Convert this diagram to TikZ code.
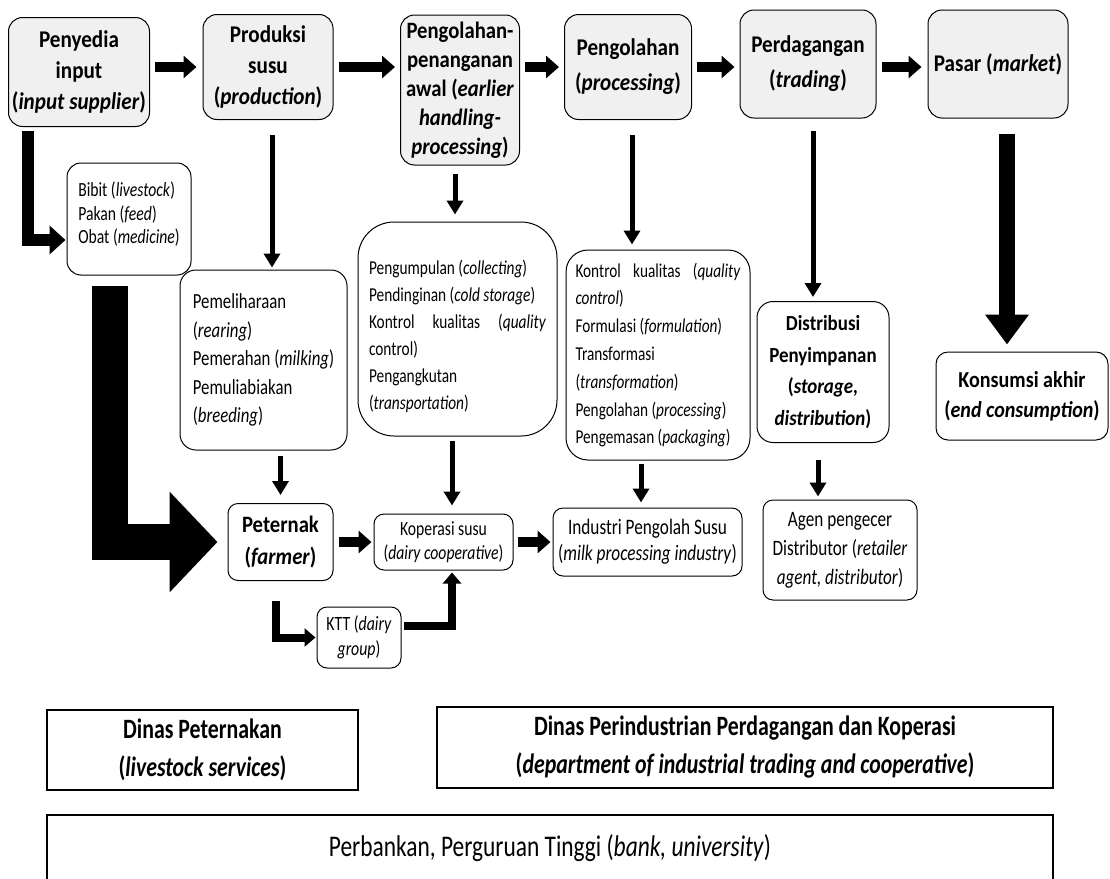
\documentclass[tikz,border=0pt]{standalone}
\usepackage{fontspec}
\setmainfont{Carlito}[FakeStretch=0.88]
\newfontfamily\bodyfont[FakeStretch=0.78]{Carlito}
\newfontfamily\narrowfont[FakeStretch=0.78]{Carlito}
\usetikzlibrary{arrows.meta}

\begin{document}
\begin{tikzpicture}[x=1pt,y=-1pt,
	stage/.style={draw,line width=1pt,rounded corners=14pt,fill=black!6,align=center,inner sep=2pt,
		font=\bfseries\fontsize{24}{31}\selectfont},
	task/.style={draw,line width=1pt,rounded corners=16pt,align=left,inner sep=4pt,
		font=\bodyfont\fontsize{19.7}{27}\selectfont},
	actor/.style={draw,line width=1pt,rounded corners=10pt,align=center,inner sep=2pt,
		font=\bodyfont\fontsize{20}{25}\selectfont},
	agency/.style={draw,line width=1.2pt,align=center,inner sep=2pt,
		font=\narrowfont\bfseries\fontsize{28}{38}\selectfont},
	flow/.style={line width=10pt,-{Triangle[length=13pt,width=22pt]}},
	down/.style={line width=5pt,-{Triangle[length=14pt,width=16pt]}},
	bigflow/.style={line width=36pt,-{Triangle[length=48pt,width=98pt]}}
	]
	
	\useasboundingbox (0,0) rectangle (1110,878);
	
	% chain stages
	\node[stage, minimum width=141pt, minimum height=109pt] (penyedia) at (79,72) {Penyedia\\input\\(\textit{input supplier})};
	\node[stage, minimum width=130pt, minimum height=105pt] (produksi) at (268,67) {Produksi\\susu\\(\textit{production})};
	\node[stage, minimum width=119pt, minimum height=150pt, font=\bfseries\fontsize{23.5}{29}\selectfont] (penanganan) at (460,90) {Pengolahan-\\penanganan\\awal (\textit{earlier}\\\textit{handling-}\\\textit{processing})};
	\node[stage, minimum width=127pt, minimum height=105pt, font=\bfseries\fontsize{24}{35}\selectfont] (pengolahan) at (628,67) {Pengolahan\\(\textit{processing})};
	\node[stage, minimum width=136pt, minimum height=108pt, font=\bfseries\fontsize{24}{35}\selectfont] (perdagangan) at (808,64) {Perdagangan\\(\textit{trading})};
	\node[stage, minimum width=140pt, minimum height=108pt] (pasar) at (998,64) {Pasar (\textit{market})};
	
	% activities
	\node[task, minimum width=124pt, minimum height=112pt, rounded corners=14pt, font=\bodyfont\fontsize{20.1}{23.5}\selectfont] (bibit) at (129,219) {Bibit (\textit{livestock})\\Pakan (\textit{feed})\\Obat (\textit{medicine})\\[-11pt]\mbox{}};
	\node[task, minimum width=167pt, minimum height=180pt, font=\bodyfont\fontsize{21.5}{28.5}\selectfont] (pemeliharaan) at (263.5,360) {Pemeliharaan\\(\textit{rearing})\\Pemerahan (\textit{milking})\\Pemuliabiakan\\(\textit{breeding})};
	\node[task, minimum width=199pt, minimum height=214pt, rounded corners=36pt] (pengumpulan) at (457.5,329) {\mbox{}\\[2pt]Pengumpulan (\textit{collecting})\\Pendinginan (\textit{cold storage})\\\makebox[177pt][s]{Kontrol kualitas (\textit{quality}}\\control)\\Pengangkutan\\(\textit{transportation})};
	\node[task, minimum width=184pt, minimum height=210pt, rounded corners=22pt, font=\bodyfont\fontsize{19.6}{27.8}\selectfont] (kontrol) at (658,355) {\makebox[165pt][s]{Kontrol kualitas (\textit{quality}}\\\textit{control})\\Formulasi (\textit{formulation})\\Transformasi\\(\textit{transformation})\\Pengolahan (\textit{processing})\\Pengemasan (\textit{packaging})};
	\node[actor, minimum width=132pt, minimum height=141pt, rounded corners=16pt, font=\bfseries\fontsize{21.5}{31.5}\selectfont] (distribusi) at (823,372) {Distribusi\\Penyimpanan\\(\textit{storage,}\\\textit{distribution})};
	\node[actor, minimum width=172pt, minimum height=88pt, rounded corners=12pt, font=\bfseries\fontsize{22.8}{30}\selectfont] (konsumsi) at (1022,396) {Konsumsi akhir\\(\textit{end consumption})};
	
	% actors
	\node[actor, minimum width=105pt, minimum height=77pt, font=\bfseries\fontsize{23.5}{32}\selectfont] (peternak) at (280.5,542) {Peternak\\(\textit{farmer})};
	\node[actor, minimum width=139pt, minimum height=56pt, font=\bodyfont\fontsize{20.1}{24}\selectfont] (koperasi) at (443.5,542) {Koperasi susu\\(\textit{dairy cooperative})};
	\node[actor, minimum width=189pt, minimum height=68pt, font=\bodyfont\fontsize{22.1}{26}\selectfont] (industri) at (647.5,542) {Industri Pengolah Susu\\(\textit{milk processing industry})};
	\node[actor, minimum width=154pt, minimum height=100pt, font=\bodyfont\fontsize{22}{29}\selectfont] (agen) at (840,550) {Agen pengecer\\Distributor (\textit{retailer}\\\textit{agent, distributor})};
	\node[actor, minimum width=84pt, minimum height=61pt, font=\bodyfont\fontsize{20.3}{25}\selectfont] (ktt) at (359,637.5) {KTT (\textit{dairy}\\\textit{group})};
	
	% supporting institutions
	\node[agency, minimum width=311pt, minimum height=80pt] (dinaspet) at (202.5,750) {Dinas Peternakan\\(\textit{livestock services})};
	\node[agency, minimum width=616pt, minimum height=81pt] (dinasperin) at (745,747.5) {Dinas Perindustrian Perdagangan dan Koperasi\\(\textit{department of industrial trading and cooperative})};
	\node[agency, minimum width=1006pt, minimum height=66pt, font=\narrowfont\fontsize{30}{38}\selectfont] (perbankan) at (550,848) {Perbankan, Perguruan Tinggi (\textit{bank, university})};
	
	% main chain
	\coordinate (row) at (0,67);
	\draw[flow, shorten <=5pt, shorten >=6pt] (penyedia.east |- row) -- (produksi.west |- row);
	\draw[flow, shorten <=5pt, shorten >=5pt] (produksi.east |- row) -- (penanganan.west |- row);
	\draw[flow, shorten <=5pt, shorten >=5pt] (penanganan.east |- row) -- (pengolahan.west |- row);
	\draw[flow, shorten <=5pt, shorten >=5pt] (pengolahan.east |- row) -- (perdagangan.west |- row);
	\draw[flow, shorten <=5pt, shorten >=6pt] (perdagangan.east |- row) -- (pasar.west |- row);
	
	% stages to activities
	\draw[line width=12pt, -{Triangle[length=16pt,width=28pt]}, shorten <=4pt, shorten >=1pt] ([xshift=19.5pt]penyedia.south west) |- ([yshift=-21pt]bibit.west);
	\draw[down, shorten <=15pt, shorten >=2pt] ([xshift=4pt]produksi.south) -- ([xshift=4pt]produksi.south |- pemeliharaan.north);
	\draw[down, shorten <=8pt, shorten >=7pt] ([xshift=-5pt]penanganan.south) -- ([xshift=-5pt]penanganan.south |- pengumpulan.north);
	\draw[down, shorten <=15pt, shorten >=5pt] ([xshift=4pt]pengolahan.south) -- ([xshift=4pt]pengolahan.south |- kontrol.north);
	\draw[down, shorten <=12pt, shorten >=4pt] ([xshift=5pt]perdagangan.south) -- ([xshift=5pt]perdagangan.south |- distribusi.north);
	\draw[line width=16pt, -{Triangle[length=30pt,width=42pt]}, shorten <=15pt, shorten >=7pt] ([xshift=9pt]pasar.south) -- ([xshift=9pt]pasar.south |- konsumsi.north);
	\draw[bigflow, shorten <=10pt, shorten >=10pt] ([xshift=-19pt]bibit.south) |- (peternak.west);
	
	% activities to actors
	\draw[down, shorten <=5pt, shorten >=8pt] (peternak.north |- pemeliharaan.south) -- (peternak.north);
	\draw[down, shorten <=4pt, shorten >=8pt] ([xshift=8.5pt]koperasi.north |- pengumpulan.south) -- ([xshift=8.5pt]koperasi.north);
	\draw[down, shorten <=3pt, shorten >=5pt] ([xshift=-6.5pt]industri.north |- kontrol.south) -- ([xshift=-6.5pt]industri.north);
	\draw[down, shorten <=17pt, shorten >=3pt] ([xshift=-5pt]distribusi.south) -- ([xshift=-5pt]distribusi.south |- agen.north);
	
	% actors
	\draw[flow, shorten <=5pt, shorten >=2pt] (peternak.east) -- (koperasi.west);
	\draw[flow, shorten <=4pt, shorten >=2pt] (koperasi.east) -- (industri.west);
	\draw[line width=8pt, -{Triangle[length=11pt,width=18pt]}, shorten <=20pt, shorten >=1pt] ([xshift=-5pt]peternak.south) |- (ktt.west);
	\draw[line width=8pt, -{Triangle[length=11pt,width=18pt]}, shorten <=2pt, shorten >=2pt] ([yshift=12pt]ktt.east) -| ([xshift=8.5pt]koperasi.south);
	
\end{tikzpicture}
\end{document}
